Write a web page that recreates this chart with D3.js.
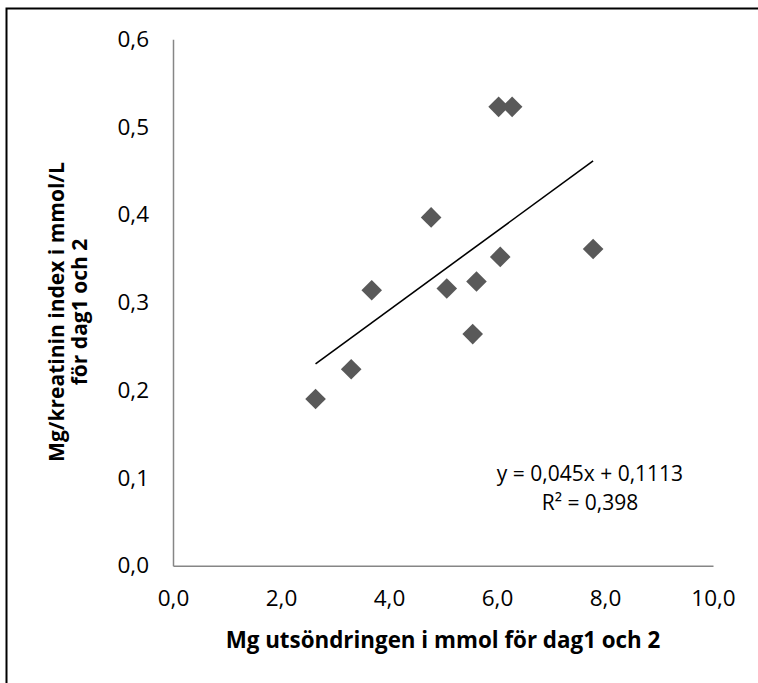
<!DOCTYPE html>
<html>
<head>
<meta charset="utf-8">
<script src="https://cdn.jsdelivr.net/npm/d3@7"></script>
<style>
  body { margin: 0; background: #fff; }
  text { font-family: "Open Sans", Lato, sans-serif; fill: #000; }
</style>
</head>
<body>
<div id="chart"></div>
<script>
// data
var mgExcretion = [2.64, 3.30, 3.68, 4.78, 5.07, 5.62, 5.55, 6.06, 6.03, 6.28, 7.78];
var mgCreatIndex = [0.190, 0.224, 0.314, 0.397, 0.316, 0.324, 0.264, 0.352, 0.523, 0.523, 0.361];
var xTicks = [0, 2, 4, 6, 8, 10];
var yTicks = [0, 0.1, 0.2, 0.3, 0.4, 0.5, 0.6];
var trendSlope = 0.045;
var trendIntercept = 0.1113;
var eqLabel = "y = 0,045x + 0,1113";
var r2Label = "R² = 0,398";
var xTitle = "Mg utsöndringen i mmol för dag1 och 2";
var yTitle = ["Mg/kreatinin index i mmol/L", "för dag1 och 2"];

var width = 758, height = 683;
var markColor = '#595959';
var axisColor = '#868686';
var fontFamily = '"Open Sans", Lato, sans-serif';

var locale = d3.formatLocale({decimal: ",", thousands: " ", grouping: [3], currency: ["", " kr"]});
var fmt = locale.format(".1f");

var points = mgExcretion.map(function(d, i) { return {x: d, y: mgCreatIndex[i]}; });

var svg = d3.select('#chart').append('svg')
    .attr('width', width)
    .attr('height', height);

// outer frame (only left and top edges show)
svg.append('rect')
    .attr('x', 6.5)
    .attr('y', 8.5)
    .attr('width', width + 20)
    .attr('height', height + 20)
    .attr('fill', 'none')
    .attr('stroke', '#000')
    .attr('stroke-width', 2);

var x = d3.scaleLinear().domain([0, 10]).range([173, 713]);
var y = d3.scaleLinear().domain([0, 0.6]).range([565.7, 39.3]);

var xAxis = svg.append('g')
    .attr('transform', 'translate(0,' + y(0) + ')')
    .call(d3.axisBottom(x).tickValues(xTicks).tickFormat(fmt).tickSize(0).tickPadding(24));

var yAxis = svg.append('g')
    .attr('transform', 'translate(' + x(0) + ',0)')
    .call(d3.axisLeft(y).tickValues(yTicks).tickFormat(fmt).tickSize(0).tickPadding(24));

[xAxis, yAxis].forEach(function(g) {
    g.select('.domain').attr('stroke', axisColor).attr('stroke-width', 1.5);
    g.selectAll('text')
        .style('font-family', fontFamily)
        .style('font-size', '22.5px')
        .attr('fill', '#000');
});

// trendline
var xMin = d3.min(mgExcretion), xMax = d3.max(mgExcretion);
svg.append('line')
    .attr('x1', x(xMin))
    .attr('y1', y(trendSlope * xMin + trendIntercept))
    .attr('x2', x(xMax))
    .attr('y2', y(trendSlope * xMax + trendIntercept))
    .attr('stroke', '#000')
    .attr('stroke-width', 1.6);

// diamonds
svg.append('g')
    .selectAll('path')
    .data(points)
    .enter()
    .append('path')
    .attr('transform', function(d) { return 'translate(' + x(d.x) + ',' + y(d.y) + ')'; })
    .attr('d', 'M0,-10.3L10.3,0L0,10.3L-10.3,0Z')
    .attr('fill', markColor);

// regression label
svg.append('text')
    .attr('x', 590)
    .attr('y', 481)
    .attr('text-anchor', 'middle')
    .style('font-size', '21px')
    .text(eqLabel);

svg.append('text')
    .attr('x', 590)
    .attr('y', 510)
    .attr('text-anchor', 'middle')
    .style('font-size', '21px')
    .text(r2Label);

// axis titles, sized to the width they take in the picture
function fitSize(sel, target) {
    var w = sel.node().getComputedTextLength();
    var fs = parseFloat(sel.style('font-size'));
    sel.style('font-size', (fs * target / w).toFixed(2) + 'px');
}

var xt = svg.append('text')
    .attr('x', (x(0) + x(10)) / 2)
    .attr('y', 648)
    .attr('text-anchor', 'middle')
    .style('font-size', '20px')
    .style('font-weight', 'bold')
    .text(xTitle);
fitSize(xt, 435);

var yt = svg.append('text')
    .attr('transform', 'translate(64,312) rotate(-90)')
    .attr('text-anchor', 'middle')
    .style('font-size', '20px')
    .style('font-weight', 'bold');

yt.selectAll('tspan')
    .data(yTitle)
    .enter()
    .append('tspan')
    .attr('x', 0)
    .attr('dy', function(d, i) { return i === 0 ? 0 : '1.1em'; })
    .text(function(d) { return d; });

var firstLine = yt.select('tspan').node().getComputedTextLength();
yt.style('font-size', (20 * 300 / firstLine).toFixed(2) + 'px');
</script>
</body>
</html>
